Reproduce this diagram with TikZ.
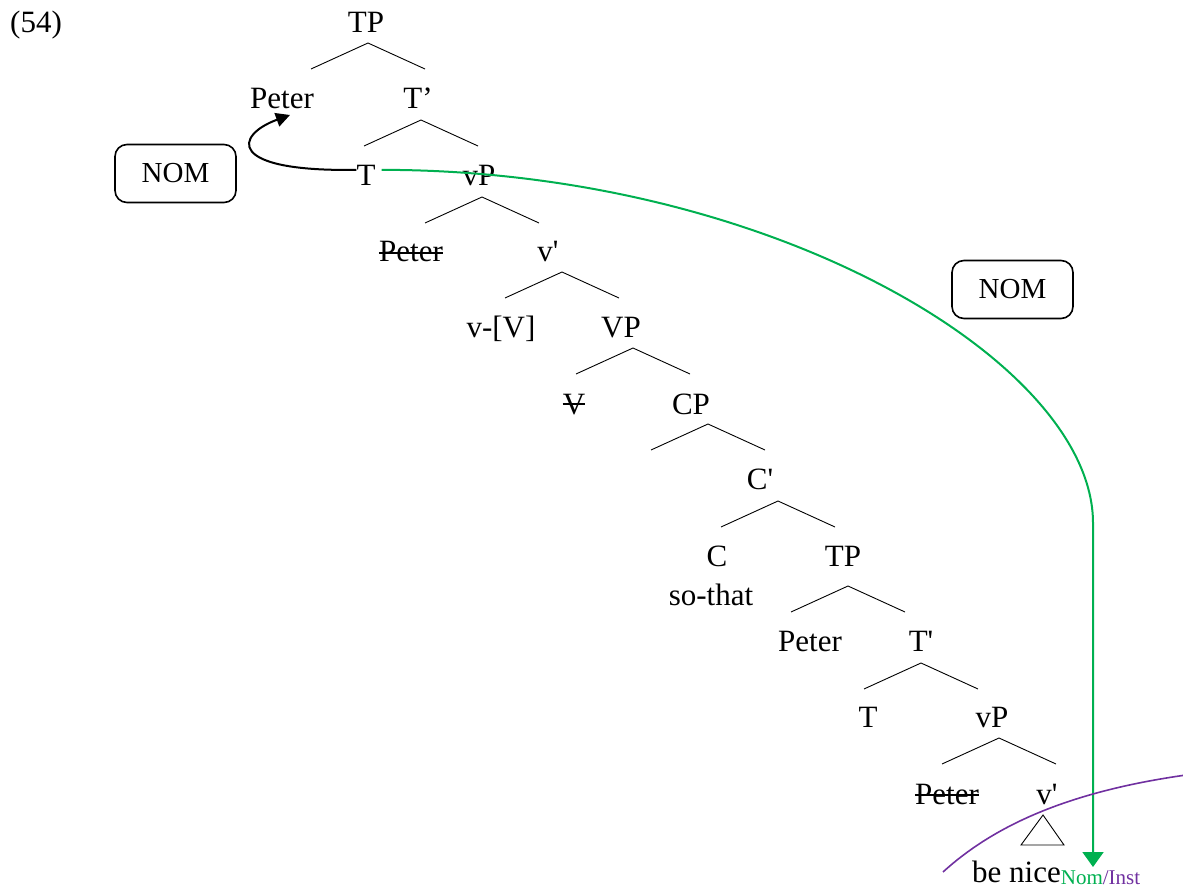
\documentclass[tikz,border=0pt]{standalone}
\usepackage{fontspec}
\setmainfont{Liberation Serif}
\usetikzlibrary{arrows.meta}
\definecolor{nomgreen}{RGB}{0,176,80}
\definecolor{instpurple}{RGB}{112,48,160}

\begin{document}
\begin{tikzpicture}[x=1pt,y=-1pt,
  lbl/.style={anchor=base,inner sep=0pt,font=\fontsize{31}{36}\selectfont},
  casebox/.style={draw,rounded corners=12pt,line width=1.6pt,minimum width=121pt,minimum height=58pt,font=\fontsize{29}{34}\selectfont},
  branch/.style={line width=0.9pt},
  strikeline/.style={line width=1.5pt},
  movearrow/.style={line width=2pt,-{Triangle[length=14pt,width=14pt]}},
  nomarrow/.style={nomgreen,line width=2pt,-{Triangle[length=15pt,width=21pt]}},
  instline/.style={instpurple,line width=1.6pt}]
  \useasboundingbox (0,0) rectangle (1183,890);

  \node[lbl] (ex) at (36,33) {(54)};

  % matrix clause
  \node[lbl] (tp0) at (366,33) {TP};
  \node[lbl] (peter1) at (282,109) {Peter};
  \node[lbl] (tbar1) at (418,109) {T’};
  \node[lbl] (t2) at (366,186) {T};
  \node[lbl] (vp2) at (479,186) {vP};
  \node[lbl] (peter3) at (411,262) {Peter};
  \node[lbl] (vbar3) at (548,262) {v\textquotesingle};
  \node[lbl] (vv4) at (501,338) {v-[V]};
  \node[lbl] (vp4) at (621,338) {VP};
  \node[lbl] (v5) at (574,414) {V};
  \node[lbl] (cp5) at (691,414) {CP};
  \node[lbl] (cbar6) at (760,489) {C\textquotesingle};
  \node[lbl] (c7) at (717,566) {C};
  \node[lbl] (sothat7) at (711,605) {so-that};
  \node[lbl] (tp7) at (843,566) {TP};

  % embedded clause
  \node[lbl] (peter8) at (810,651) {Peter};
  \node[lbl] (tbar8) at (921,651) {T\textquotesingle};
  \node[lbl] (t9) at (868,727) {T};
  \node[lbl] (vp9) at (992,727) {vP};
  \node[lbl] (peter10) at (947,804) {Peter};
  \node[lbl] (vbar10) at (1047,804) {v\textquotesingle};
  \node[lbl,anchor=base west] (benice) at (972,882) {be nice{\fontsize{21}{24}\selectfont\raisebox{-2pt}{\color{nomgreen}Nom\color{instpurple}/Inst}}};

  % deleted copies
  \foreach \s/\h in {peter3/9,v5/10,peter10/9}
    \draw[strikeline] ([yshift=\h pt]\s.base west) -- ([yshift=\h pt]\s.base east);

  % branches
  \foreach \m/\dx/\dy in {tp0/2/10,tbar1/3/11,vp2/3/11,vbar3/14/10,vp4/12/10,cp5/17/10,cbar6/18/12,tp7/5/20,tbar8/0/12,vp9/7/11}
    \draw[branch] ([shift={(\dx,\dy)}]\m.base) +(-57,26) -- +(0,0) -- +(57,26);
  \draw[branch] ([shift={(-4,11)}]vbar10.base) -- +(-22,30) -- +(21,30) -- cycle;

  % case boxes
  \node[casebox] (nomleft) at (175.5,173.5) {NOM};
  \node[casebox] (nomright) at (1012.5,289.5) {NOM};

  % movement and agree
  \draw[movearrow] ([shift={(0,-6)}]t2.west) .. controls (225,172) and (235,135) .. ([shift={(8,6)}]peter1.base);
  \coordinate (nomtip) at (1093,867);
  \draw[nomarrow] ([shift={(6,-6)}]t2.east) .. controls (773,170) and (1093,363) .. (1093,523) -- (nomtip);
  \draw[instline] (943,872) .. controls (1000,820) and (1080,790) .. (1186,775);
\end{tikzpicture}
\end{document}
